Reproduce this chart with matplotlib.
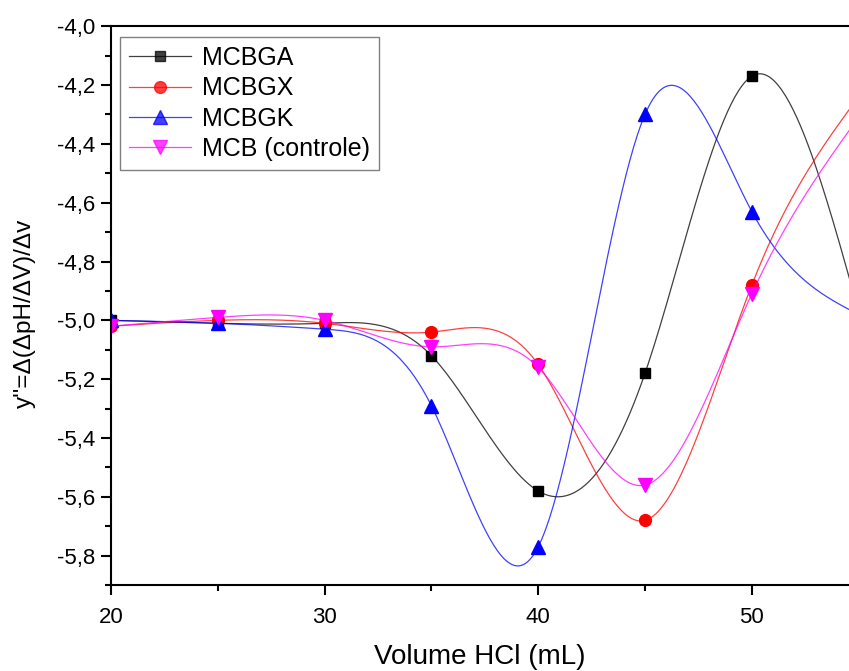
import matplotlib.pyplot as plt
import matplotlib.ticker as ticker
import numpy as np

plt.rcParams['font.family'] = ['Liberation Sans', 'DejaVu Sans']

# volume of HCl (mL)
vol = [20, 25, 30, 35, 40, 45, 50, 55]

# second derivative values
mcbga = [-5.00, -5.01, -5.01, -5.12, -5.58, -5.18, -4.17, -4.97]
mcbgx = [-5.02, -5.00, -5.01, -5.04, -5.15, -5.68, -4.88, -4.24]
mcbgk = [-5.00, -5.01, -5.03, -5.29, -5.77, -4.30, -4.63, -4.98]
mcb = [-5.02, -4.99, -5.00, -5.09, -5.16, -5.56, -4.91, -4.31]

labels = ["MCBGA", "MCBGX", "MCBGK", "MCB (controle)"]
colors = ["black", "red", "blue", "magenta"]
markers = ["s", "o", "^", "v"]
msizes = [7.5, 8.5, 9.5, 9.5]


def spline(x, y, n=400):
    # natural cubic spline, just for drawing the smooth connection
    x = np.asarray(x, float)
    y = np.asarray(y, float)
    m = len(x)
    h = np.diff(x)
    A = np.zeros((m, m))
    b = np.zeros(m)
    A[0, 0] = 1
    A[-1, -1] = 1
    for i in range(1, m - 1):
        A[i, i - 1] = h[i - 1]
        A[i, i] = 2 * (h[i - 1] + h[i])
        A[i, i + 1] = h[i]
        b[i] = 3 * ((y[i + 1] - y[i]) / h[i] - (y[i] - y[i - 1]) / h[i - 1])
    c = np.linalg.solve(A, b)
    xs = np.linspace(x[0], x[-1], n)
    idx = np.clip(np.searchsorted(x, xs) - 1, 0, m - 2)
    dx = xs - x[idx]
    bb = (y[idx + 1] - y[idx]) / h[idx] - h[idx] * (2 * c[idx] + c[idx + 1]) / 3
    d = (c[idx + 1] - c[idx]) / (3 * h[idx])
    ys = y[idx] + bb * dx + c[idx] * dx ** 2 + d * dx ** 3
    return xs, ys


fig = plt.figure(figsize=(8.49, 6.71), dpi=100)
ax = fig.add_axes([0.1307, 0.128, 0.8693, 0.833])

for yv, lab, col, mk, ms in zip([mcbga, mcbgx, mcbgk, mcb], labels, colors, markers, msizes):
    xs, ys = spline(vol, yv)
    lw = 0.9
    ax.plot(xs, ys, color=col, lw=lw, alpha=0.75)
    ax.plot(vol, yv, linestyle="none", marker=mk, color=col, markersize=ms)
    ax.plot([], [], color=col, lw=lw, alpha=0.75, marker=mk, markersize=ms,
            markeredgecolor=col, markerfacecolor=col, label=lab)

ax.set_xlim(20, 54.55)
ax.set_ylim(-5.9, -4.0)
ax.xaxis.set_major_locator(ticker.MultipleLocator(10))
ax.xaxis.set_minor_locator(ticker.MultipleLocator(5))
ax.yaxis.set_major_locator(ticker.MultipleLocator(0.2))
ax.yaxis.set_minor_locator(ticker.MultipleLocator(0.1))
ax.yaxis.set_major_formatter(ticker.FuncFormatter(lambda v, p: f"{v:.1f}".replace(".", ",")))
ax.tick_params(which="both", direction="out", width=1.5, labelsize=16)
ax.tick_params(which="major", length=7)
ax.tick_params(which="minor", length=4)
ax.tick_params(axis="x", pad=9)
ax.tick_params(axis="y", pad=4)
for s in ["left", "bottom", "top"]:
    ax.spines[s].set_linewidth(1.5)
ax.spines["right"].set_visible(False)

ax.set_xlabel("Volume HCl (mL)", fontsize=20)
ax.xaxis.set_label_coords(0.5, -0.129)
ax.xaxis.label.set_va("center")
ax.set_ylabel("y''=\u0394(\u0394pH/\u0394V)/\u0394v", fontsize=17.5)
ax.yaxis.set_label_coords(-0.116, 0.487)
ax.yaxis.label.set_va("center")

leg = ax.legend(loc="upper left", bbox_to_anchor=(0.012, 0.98), borderaxespad=0,
                fontsize=18, fancybox=False, edgecolor="gray", framealpha=1,
                handlelength=2.5, borderpad=0.35, labelspacing=0.25, handletextpad=0.45)
leg.get_frame().set_linewidth(1.0)

fig.savefig("out.png", dpi=100)
